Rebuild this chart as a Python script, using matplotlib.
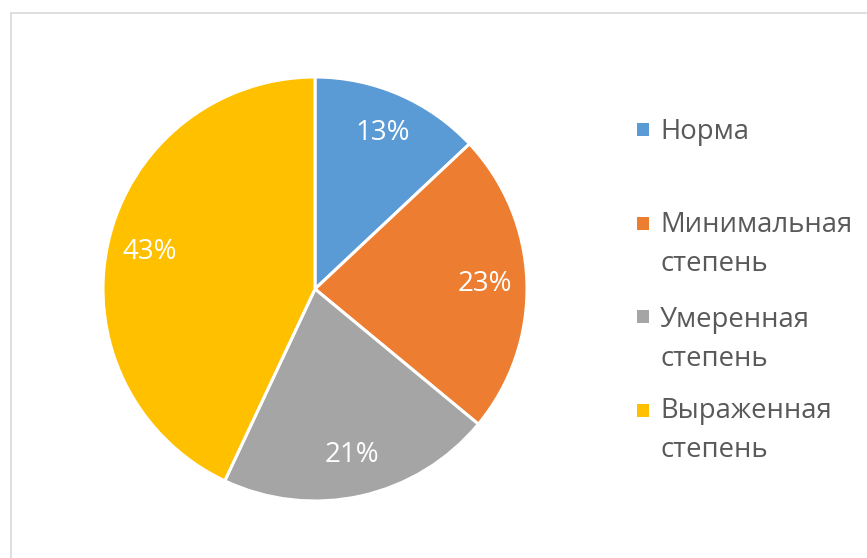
import matplotlib
matplotlib.use('Agg')
import matplotlib.pyplot as plt
from matplotlib.lines import Line2D
from matplotlib.patches import Rectangle

# Share of patients by severity level, percent
categories = ['Норма', 'Минимальная\nстепень', 'Умеренная\nстепень', 'Выраженная\nстепень']
shares = [13, 23, 21, 43]
colors = ['#5B9BD5', '#ED7D31', '#A5A5A5', '#FFC000']

W, H = 867, 558
plt.rcParams['font.family'] = ['Open Sans', 'DejaVu Sans']

fig = plt.figure(figsize=(W / 100, H / 100), dpi=100)


def fx(px):
    return px / W


def fy(py):
    return 1 - py / H


# pie centred at (315, 289) px, radius 212 px
cx, cy, r = 315, 289, 212
ax = fig.add_axes([fx(cx - r), fy(cy + r), 2 * r / W, 2 * r / H])
ax.pie(shares, colors=colors, startangle=90, counterclock=False,
       autopct=lambda p: f'{p:.0f}%', pctdistance=0.8,
       wedgeprops=dict(edgecolor='white', linewidth=2.2),
       textprops=dict(color='white', fontsize=20))
ax.set_xlim(-1, 1)
ax.set_ylim(-1, 1)
ax.set_aspect('auto')
ax.axis('off')

# legend: square marker + label lines, baselines in px
marker_y = [129.5, 223, 316, 410]
baseline_y = [139, 232, 327, 418]
line_step = 39
for label, color, my, by in zip(categories, colors, marker_y, baseline_y):
    fig.patches.append(Rectangle((fx(637), fy(my + 6.5)), 12 / W, 13 / H,
                                 transform=fig.transFigure, facecolor=color,
                                 edgecolor='none'))
    for i, line in enumerate(label.split('\n')):
        fig.text(fx(660), fy(by + i * line_step), line, fontsize=19.8,
                 color='#595959', va='baseline', ha='left')

# chart area border (top and left edges)
border = '#D9D9D9'
fig.lines.append(Line2D([fx(10.5), 1], [fy(12.5), fy(12.5)],
                        transform=fig.transFigure, color=border, linewidth=1.2))
fig.lines.append(Line2D([fx(10.5), fx(10.5)], [fy(12.5), 0],
                        transform=fig.transFigure, color=border, linewidth=1.2))

fig.savefig('out.png', dpi=100, facecolor='white')
